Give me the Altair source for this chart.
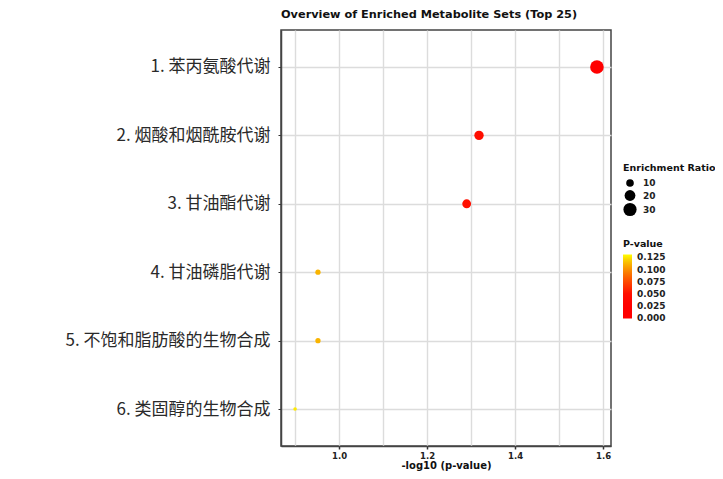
import altair as alt
import pandas as pd

pathways = [
    "1. 苯丙氨酸代谢",
    "2. 烟酸和烟酰胺代谢",
    "3. 甘油酯代谢",
    "4. 甘油磷脂代谢",
    "5. 不饱和脂肪酸的生物合成",
    "6. 类固醇的生物合成",
]
neg_log10_p = [1.586, 1.318, 1.290, 0.952, 0.952, 0.900]
p_values = [0.0259, 0.0481, 0.0513, 0.1117, 0.1117, 0.1259]
enrichment_ratio = [32.0, 15.2, 13.5, 4.8, 4.8, 2.2]

x_grid_values = [0.9, 1.0, 1.1, 1.2, 1.3, 1.4, 1.5, 1.6]
p_legend_values = [0.0, 0.025, 0.05, 0.075, 0.1, 0.125]
size_legend_values = [10, 20, 30]
p_color_stops = [
    "#ff0000", "#ff0000", "#ff0000", "#ff0800", "#ff1000", "#fe3000",
    "#fd5000", "#fb7400", "#f99c00", "#f8c800", "#ffff00",
]

df = pd.DataFrame({
    "pathway": pathways,
    "x": neg_log10_p,
    "p": p_values,
    "ratio": enrichment_ratio,
})

FONT = "DejaVu Sans"

chart = alt.Chart(df).mark_circle(opacity=1, strokeWidth=0).encode(
    x=alt.X(
        "x:Q",
        scale=alt.Scale(domain=[0.868, 1.618], nice=False, zero=False),
        axis=alt.Axis(
            values=x_grid_values,
            labelExpr="round(datum.value*10) % 2 == 0 ? format(datum.value, '.1f') : ''",
            title="-log10 (p-value)",
            titleFont=FONT, titleFontSize=10, titleFontWeight="bold", titleColor="#111",
            titlePadding=1,
            labelFont=FONT, labelFontSize=8.5, labelFontWeight="bold", labelColor="#222",
            labelPadding=2,
            tickColor={"condition": {"test": "round(datum.value*10) % 2 == 0", "value": "#333"}, "value": "transparent"},
            tickSize=3, tickWidth=1.5,
            domainColor="#444", domainWidth=1.5,
            gridColor="#dcdcdc", gridWidth=1.4,
        ),
    ),
    y=alt.Y(
        "pathway:N",
        sort=pathways,
        scale=alt.Scale(type="point", padding=0.54),
        axis=alt.Axis(
            title=None, grid=True, labelLimit=400,
            labelFont="Noto Sans CJK SC", labelFontSize=17, labelColor="#2a2a2a",
            labelPadding=8, tickSize=3, tickColor="#333",
            domainColor="#444", domainWidth=1.5,
            gridColor="#dcdcdc", gridWidth=1.4,
        ),
    ),
    size=alt.Size(
        "ratio:Q",
        scale=alt.Scale(domain=[0, 35], range=[0, 203]),
        legend=alt.Legend(
            title="Enrichment Ratio",
            values=size_legend_values,
            orient="none", legendX=342, legendY=133,
            titleFont=FONT, titleFontSize=9.5, titleFontWeight="bold", titleColor="#111",
            titleLimit=300,
            labelFont=FONT, labelFontSize=9, labelFontWeight="bold", labelColor="#222",
            symbolFillColor="black", symbolStrokeColor="black", symbolStrokeWidth=0,
            symbolType="circle", symbolOpacity=1,
            rowPadding=1.5, labelOffset=6, titlePadding=6,
        ),
    ),
    color=alt.Color(
        "p:Q",
        scale=alt.Scale(domain=[-0.001, 0.131], range=p_color_stops),
        legend=alt.Legend(
            title="P-value",
            type="gradient",
            values=p_legend_values,
            format=".3f",
            orient="none", legendX=342, legendY=209,
            gradientLength=64, gradientThickness=9, gradientStrokeWidth=0,
            titleFont=FONT, titleFontSize=9.5, titleFontWeight="bold", titleColor="#111",
            labelFont=FONT, labelFontSize=9, labelFontWeight="bold", labelColor="#222",
            labelOverlap=False, titlePadding=6, labelOffset=5,
        ),
    ),
).properties(
    width=330,
    height=416,
    title=alt.TitleParams(
        "Overview of Enriched Metabolite Sets (Top 25)",
        anchor="start", frame="group", font=FONT, fontSize=11.3, fontWeight="bold",
        color="#111", offset=10,
    ),
    autosize=alt.AutoSizeParams(type="none"),
    padding={"left": 273, "top": 22, "right": 104, "bottom": 25},
).configure_view(
    stroke="#444", strokeWidth=1.5,
)

chart.save("out.html", embed_options={"renderer": "svg", "actions": False})
